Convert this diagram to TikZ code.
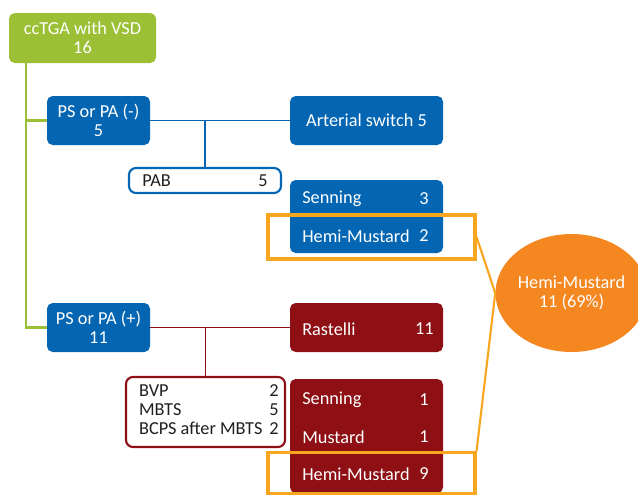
\documentclass[tikz,border=0pt]{standalone}
\usepackage{fontspec}
\setmainfont{Carlito}
\usetikzlibrary{shapes.geometric}
\definecolor{ggreen}{RGB}{155,191,53}
\definecolor{bblue}{RGB}{4,102,179}
\definecolor{rred}{RGB}{142,16,20}
\definecolor{ofill}{RGB}{245,135,33}
\definecolor{oline}{RGB}{248,166,30}
\definecolor{tgray}{RGB}{35,31,32}

\begin{document}
\begin{tikzpicture}[x=0.025cm,y=-0.025cm,font=\fontsize{13}{13.5}\selectfont,
      sz/.style 2 args={minimum width=#1*0.025cm,minimum height=#2*0.025cm},
      box/.style={rounded corners=4pt,inner sep=0pt,align=center,text=white},
      wbox/.style={rounded corners=5pt,inner sep=0pt,fill=white,line width=1.5pt},
      lbl/.style={inner sep=0pt,text=white},
      hl/.style={draw=oline,line width=2.2pt,inner sep=0pt}]
      \useasboundingbox(0,0)rectangle(638,495);
      \node[box,fill=ggreen,sz={147}{50}](root)at(82.5,38){ccTGA with VSD\\16};
      \node[box,fill=bblue,sz={103}{49}](psneg)at(98.5,120.5){PS or PA (-)\\5};
      \node[box,fill=bblue,sz={103}{49}](pspos)at(98.5,327.5){PS or PA (+)\\11};
      \node[box,fill=bblue,sz={153}{49}](arts)at(366.5,120.5){Arterial switch 5};
      \node[box,fill=bblue,sz={153}{73}](atr1)at(366.5,216.5){};
      \node[wbox,draw=bblue,sz={152}{25}](pab)at(205,180.5){};
      \node[box,fill=rred,sz={153}{49}](rast)at(366.5,327.5){};
      \node[box,fill=rred,sz={153}{114}](atr2)at(366.5,436){};
      \node[wbox,draw=rred,sz={159}{70}](bvp)at(205.5,412){};
      \node[lbl,text=tgray,anchor=west](pabt)at(142,181){PAB};
      \node[lbl,text=tgray,anchor=east](pabn)at(268,181){5};
      \node[lbl,text=tgray,anchor=east](bvpt)at(279,412){\begin{tabular}{@{}l@{\hspace{5pt}}r@{}}
         BVP&2\\MBTS&5\\BCPS after MBTS&2\end{tabular}};
      \node[lbl,anchor=west](sen1)at(302,199){Senning};
      \node[lbl,anchor=east](sen1n)at(429,199){3};
      \node[lbl,anchor=west](hm1)at(302,236){Hemi-Mustard};
      \node[lbl,anchor=east](hm1n)at(429,236){2};
      \node[lbl,anchor=west](rastt)at(302,329){Rastelli};
      \node[lbl,anchor=east](rastn)at(434,329){11};
      \node[lbl,anchor=west](sen2)at(302,400){Senning};
      \node[lbl,anchor=east](sen2n)at(429,400){1};
      \node[lbl,anchor=west](mus2)at(302,437){Mustard};
      \node[lbl,anchor=east](mus2n)at(429,437){1};
      \node[lbl,anchor=west](hm2)at(302,474){Hemi-Mustard};
      \node[lbl,anchor=east](hm2n)at(429,474){9};
      \node[ellipse,fill=ofill,text=white,align=center,inner sep=0pt,sz={133}{118}](hmsum)
         at(571.5,293){Hemi-Mustard\\11 (69\%)};
      \coordinate(gtop)at(26,63);
      \draw[ggreen,line width=1.5pt](gtop)|-(pspos.west);
      \draw[ggreen,line width=1.5pt](gtop|-psneg.west)--(psneg.west);
      \draw[bblue,line width=1.1pt](psneg.east)--(arts.west);
      \draw[bblue,line width=1.1pt](pab.north|-psneg.east)--(pab.north);
      \draw[rred,line width=1.1pt](pspos.east)--(rast.west);
      \draw[rred,line width=1.1pt](bvp.north|-pspos.east)--(bvp.north);
      \node[hl,sz={207}{44}](hl1)at(371.5,237){};
      \node[hl,sz={207}{41}](hl2)at(371.5,473){};
      \draw[oline,line width=1.5pt](hl1.east)--(hmsum.west)--(hl2.north east);
    \end{tikzpicture}
\end{document}
